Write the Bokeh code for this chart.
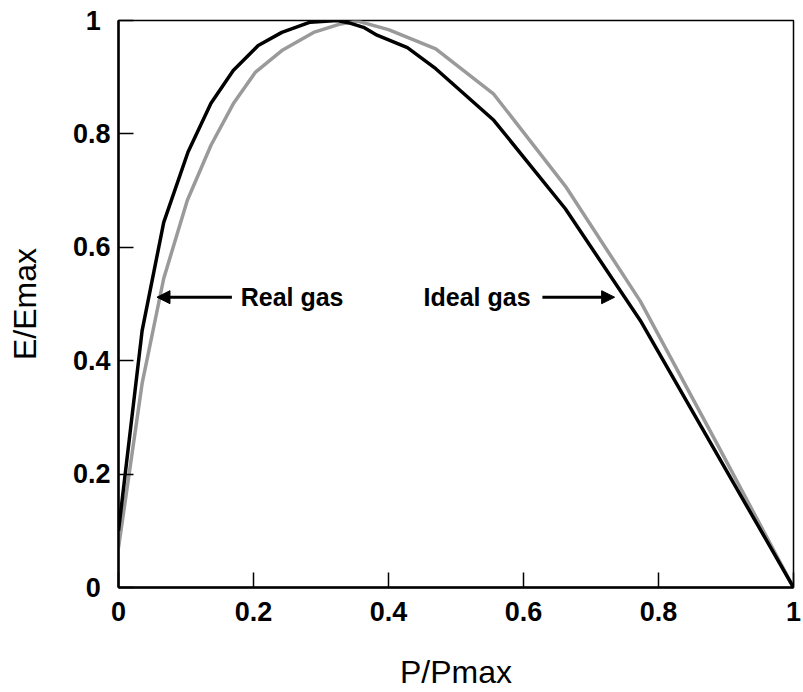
from bokeh.plotting import figure
from bokeh.models import Range1d, FixedTicker, Arrow, NormalHead, Label
from bokeh.embed import file_html
from bokeh.resources import INLINE

# Normalised pressure (P/Pmax) and stored energy (E/Emax) for the two curves
real_gas_p = [0.0, 0.035, 0.067, 0.102, 0.137, 0.170, 0.203, 0.242, 0.289,
              0.329, 0.354, 0.400, 0.470, 0.556, 0.662, 0.773, 0.886, 1.0]
real_gas_e = [0.07, 0.36, 0.545, 0.683, 0.78, 0.853, 0.909, 0.947, 0.979,
              0.994, 0.999, 0.984, 0.950, 0.870, 0.708, 0.505, 0.255, 0.0]

ideal_gas_p = [0.0, 0.035, 0.067, 0.103, 0.137, 0.170, 0.207, 0.242, 0.284,
               0.324, 0.344, 0.363, 0.383, 0.428, 0.470, 0.556, 0.662, 0.773, 1.0]
ideal_gas_e = [0.10, 0.453, 0.644, 0.768, 0.854, 0.912, 0.956, 0.979, 0.997,
               1.0, 0.995, 0.988, 0.974, 0.952, 0.915, 0.824, 0.668, 0.471, 0.0]

tick_values = [0, 0.2, 0.4, 0.6, 0.8, 1]
tick_labels = ["0", "0.2", "0.4", "0.6", "0.8", "1"]

FONT = "Liberation Sans"
# trailing padding so the single-digit labels sit centred under the decimals
PAD = "\u00a0\u200a"

p = figure(width=803, height=692, output_backend="svg", toolbar_location=None,
           x_range=Range1d(0, 1), y_range=Range1d(0, 1),
           min_border_left=118, min_border_right=10,
           min_border_top=20, min_border_bottom=105,
           background_fill_color="white", border_fill_color="white")

p.grid.visible = False
p.outline_line_color = "black"
p.outline_line_width = 1.5

for ax in (p.xaxis[0], p.yaxis[0]):
    ax.ticker = FixedTicker(ticks=tick_values)
    ax.axis_line_width = 2.5
    ax.axis_line_color = "black"
    ax.major_tick_in = 15
    ax.major_tick_out = 0
    ax.major_tick_line_width = 1.5
    ax.major_tick_line_color = "black"
    ax.minor_tick_line_color = None
    ax.major_label_text_font = FONT
    ax.major_label_text_font_style = "bold"
    ax.major_label_text_font_size = "27px"
    ax.major_label_text_color = "black"
    ax.axis_label_text_font = FONT
    ax.axis_label_text_font_style = "normal"
    ax.axis_label_text_font_size = "32px"
    ax.axis_label_text_color = "black"

p.xaxis.major_label_overrides = {v: s for v, s in zip(tick_values, tick_labels)}
p.yaxis.major_label_overrides = {v: (s + PAD if len(s) == 1 else s)
                                 for v, s in zip(tick_values, tick_labels)}

p.xaxis.axis_label = "P/Pmax"
p.yaxis.axis_label = "E/Emax"
p.xaxis.major_label_standoff = 14
p.xaxis.axis_label_standoff = 30
p.yaxis.major_label_standoff = 8
p.yaxis.axis_label_standoff = 27

p.line(real_gas_p, real_gas_e, line_color="#9a9a9a", line_width=3.5)
p.line(ideal_gas_p, ideal_gas_e, line_color="black", line_width=3.5)

# Callout arrows and their labels
p.add_layout(Arrow(end=NormalHead(size=13, fill_color="black", line_color="black"),
                   x_start=0.168, y_start=0.512, x_end=0.057, y_end=0.512,
                   line_color="black", line_width=3))
p.add_layout(Arrow(end=NormalHead(size=13, fill_color="black", line_color="black"),
                   x_start=0.628, y_start=0.512, x_end=0.735, y_end=0.512,
                   line_color="black", line_width=3))
for x, txt in [(0.181, "Real gas"), (0.452, "Ideal gas")]:
    p.add_layout(Label(x=x, y=0.512, text=txt, text_baseline="middle",
                       text_font=FONT, text_font_style="bold",
                       text_font_size="25px", text_color="black"))

open("out.html", "w").write(file_html(p, INLINE))
